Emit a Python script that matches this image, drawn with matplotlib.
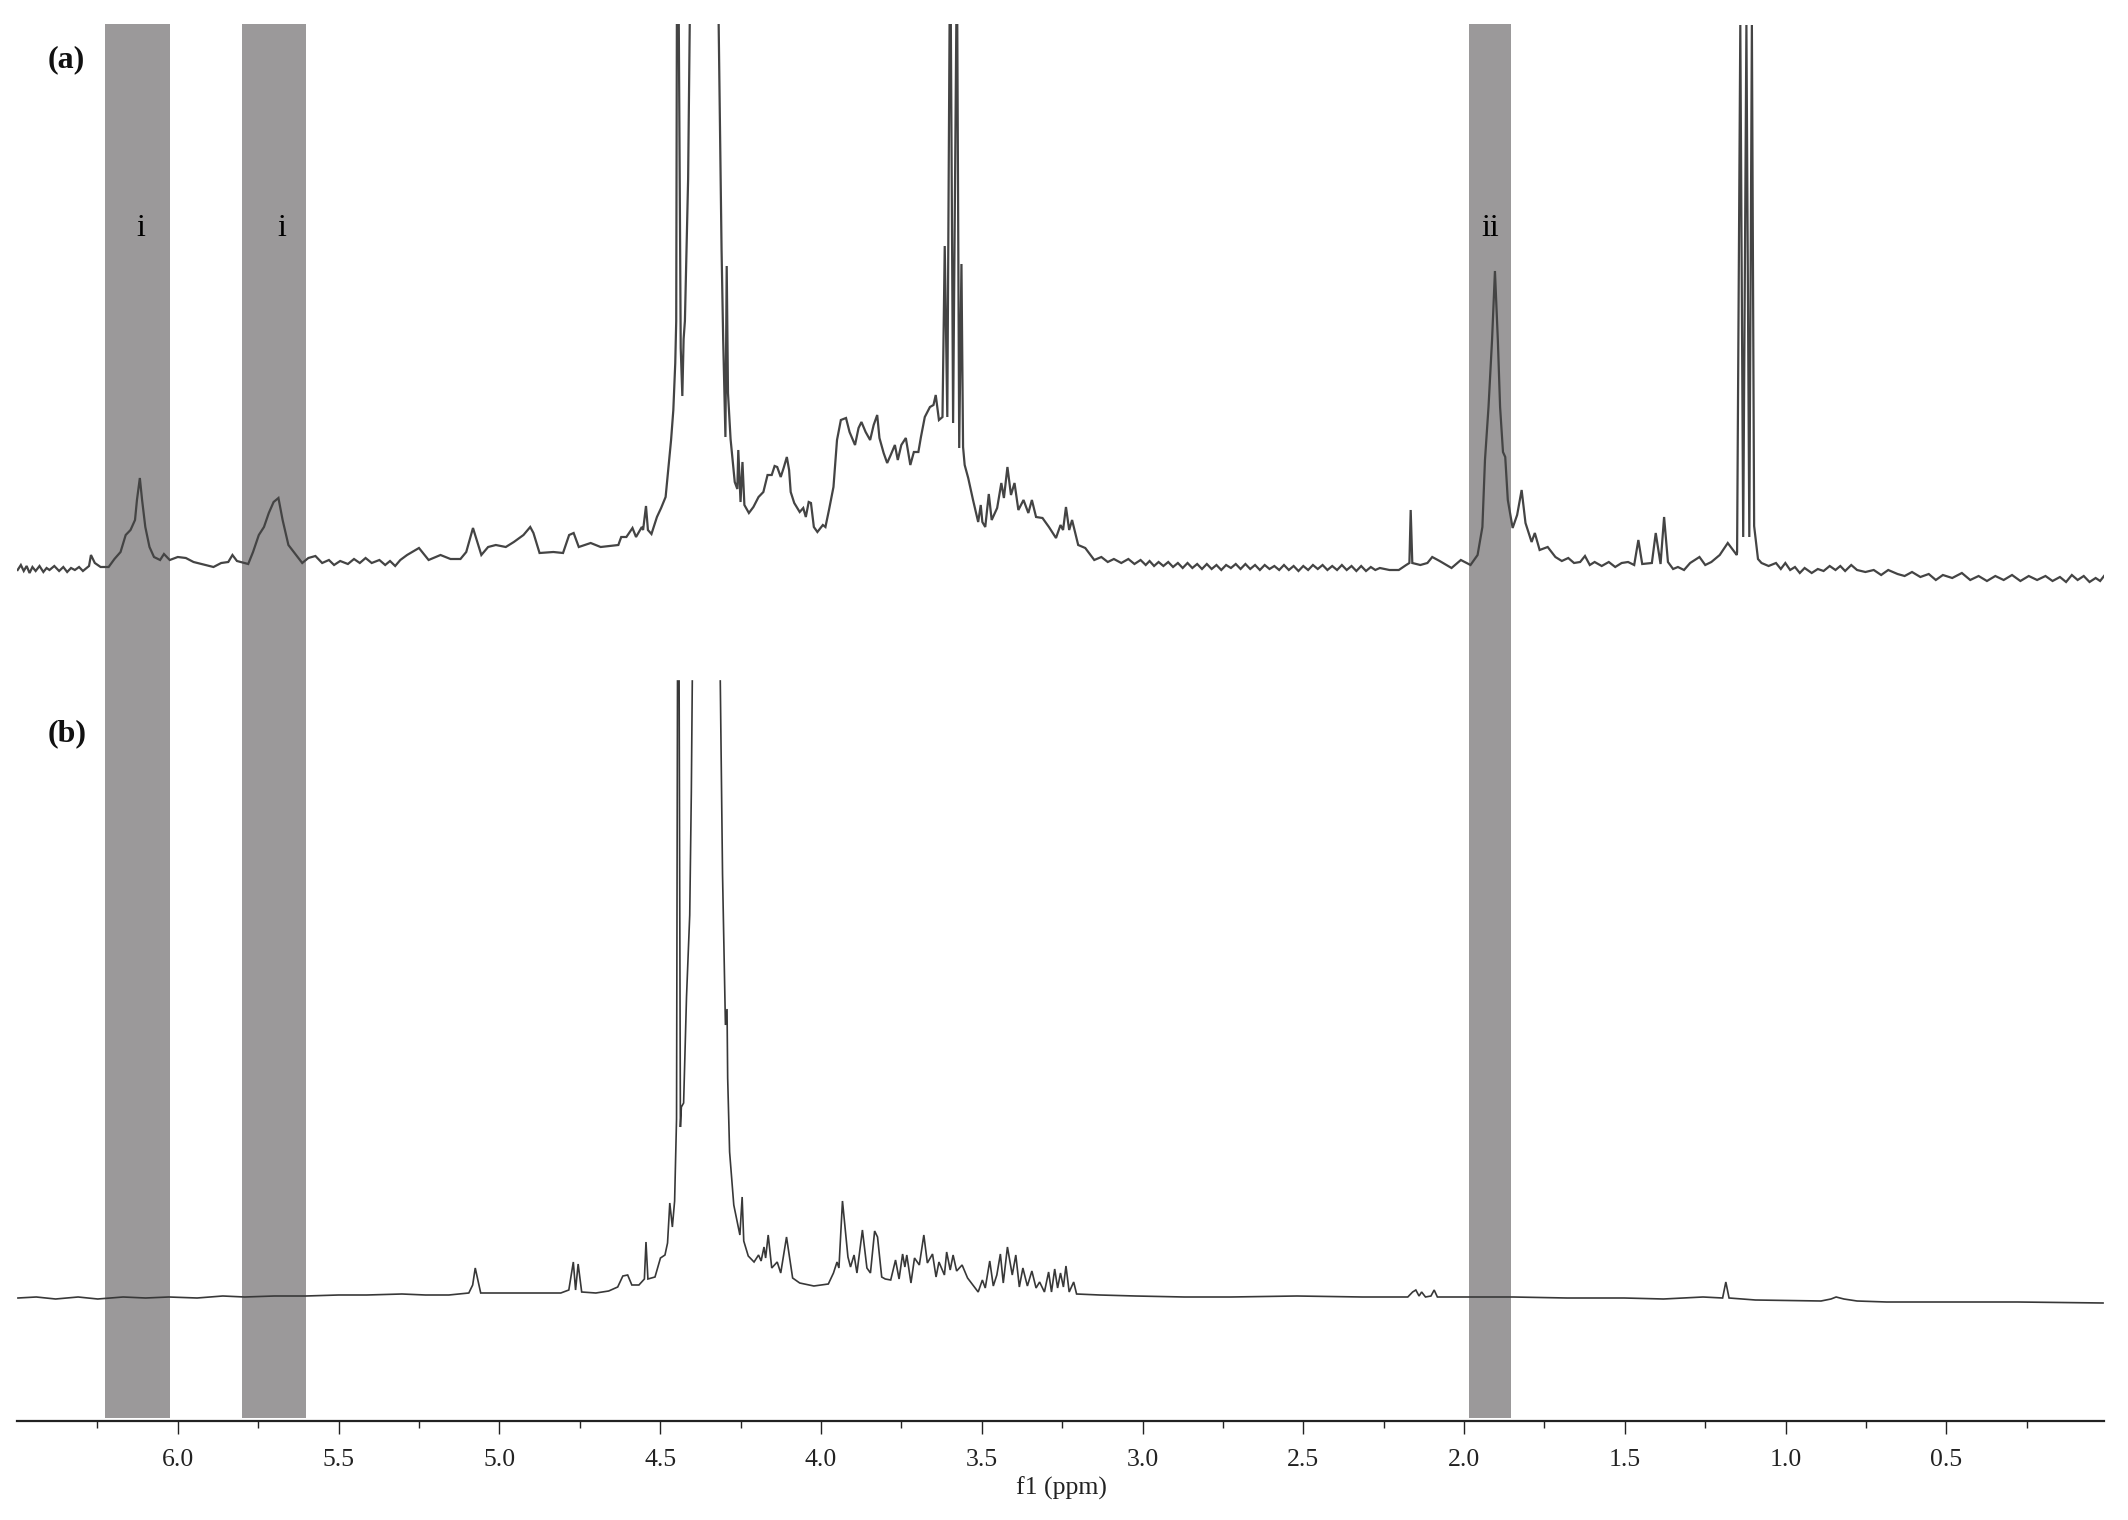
import numpy as np
import matplotlib
matplotlib.use("Agg")
import matplotlib.pyplot as plt

plt.rcParams["font.family"] = ["Liberation Serif", "DejaVu Serif"]

# =========================
# spectrum (a)
# =========================
a1_ppm = [6.498, 6.488, 6.479, 6.470, 6.461, 6.452, 6.442, 6.430, 6.418, 6.408, 6.399, 6.384, 6.369, 6.356, 6.344, 6.332,
          6.320, 6.307, 6.295, 6.276, 6.270, 6.258, 6.240, 6.215, 6.197,
          6.178, 6.162, 6.147, 6.133, 6.127, 6.118, 6.111, 6.101, 6.088, 6.074, 6.055, 6.043, 6.025, 6.000, 5.975, 5.951,
          5.926, 5.889, 5.865, 5.843, 5.830, 5.816, 5.781, 5.766, 5.748, 5.732, 5.717, 5.702, 5.687, 5.674, 5.656, 5.637,
          5.613, 5.594, 5.572, 5.551, 5.530, 5.514, 5.495, 5.471, 5.452, 5.434, 5.416, 5.397, 5.373, 5.355, 5.340, 5.324,
          5.308, 5.287, 5.250, 5.220, 5.183, 5.152, 5.121, 5.103,
          5.082, 5.056, 5.035, 5.011, 4.980, 4.955, 4.925, 4.904, 4.894, 4.875, 4.832, 4.802, 4.783, 4.769, 4.753, 4.716,
          4.685, 4.630]
a1_int = [851, 856, 850, 855, 848, 854, 850, 855, 849, 853, 851, 855, 850, 854, 849, 853,
          851, 854, 850, 855, 866, 858, 854, 854, 862,
          869, 886, 891, 901, 921, 943, 921, 894, 874, 864, 861, 867, 861, 864, 863, 859,
          857, 854, 858, 859, 866, 860, 857, 869, 886, 894, 908, 919, 923, 901, 876, 868,
          858, 863, 865, 858, 861, 856, 860, 857, 862, 858, 863, 858, 861, 856, 860, 855,
          861, 866, 873, 861, 866, 862, 862, 869,
          893, 866, 874, 876, 874, 879, 886, 894, 888, 868, 869, 868, 886, 888, 874, 878,
          874, 876]

a2_ppm = [4.621, 4.605, 4.586, 4.575, 4.557, 4.553, 4.544, 4.538, 4.527, 4.510, 4.497, 4.483, 4.475, 4.466, 4.459, 4.453,
          4.450, 4.448, 4.442, 4.436, 4.431, 4.427, 4.423, 4.413, 4.408, np.nan, 4.318, 4.309, 4.304, 4.297, 4.293, 4.289,
          4.281, 4.268, 4.260, 4.257, 4.250, 4.244, 4.238, 4.224, 4.210, 4.194, 4.179, 4.166, 4.153, 4.144, 4.136, 4.125,
          4.116, 4.106, 4.099, 4.094, 4.083, 4.066, 4.055, 4.047, 4.038, 4.031, 4.022, 4.011, 3.994, 3.986, 3.975, 3.961,
          3.950, 3.938, 3.922, 3.911, 3.894, 3.883, 3.874, 3.861, 3.847, 3.836, 3.825, 3.818, 3.805, 3.794, 3.783, 3.770,
          3.761, 3.750, 3.736, 3.722, 3.711, 3.697, 3.689, 3.677, 3.661, 3.650, 3.643, 3.633, 3.622, 3.615, 3.607, 3.600,
          3.596, 3.589, 3.579, 3.576, 3.570, 3.563, 3.558, 3.553]
a2_int = [884, 884, 893, 884, 894, 891, 915, 891, 887, 904, 913, 924, 951, 981, 1011, 1058,
          1100, 1396, 1396, 1073, 1025, 1082, 1100, 1242, 1396, np.nan, 1396, 1171, 1082, 984, 1155, 1028,
          982, 939, 932, 971, 919, 959, 916, 908, 914, 924, 929, 946, 946, 955, 954, 944,
          953, 964, 951, 929, 918, 909, 913, 904, 919, 918, 894, 889, 896, 894, 911, 934,
          981, 1001, 1003, 989, 976, 993, 999, 989, 981, 996, 1006, 983, 968, 958, 966, 976,
          961, 976, 983, 956, 969, 969, 984, 1004, 1014, 1016, 1026, 1001, 1004, 1175, 1004, 1396,
          1396, 998, 1396, 1396, 973, 1157, 974, 956]

a3_ppm = [3.542, 3.527, 3.511, 3.503, 3.498, 3.489, 3.478, 3.469, 3.452, 3.439, 3.431, 3.420, 3.409, 3.398, 3.386, 3.370,
          3.355, 3.344, 3.331, 3.311, 3.291, 3.269, 3.255, 3.247, 3.238, 3.228, 3.219, 3.200, 3.178, 3.150, 3.128, 3.108, 3.089,
          3.066, 3.044, 3.025, 3.006, 2.990, 2.978, 2.964, 2.950, 2.935, 2.92, 2.905, 2.89, 2.875, 2.86, 2.845, 2.83, 2.815, 2.80,
          2.785, 2.77, 2.755, 2.74, 2.725, 2.71, 2.695, 2.68, 2.665, 2.65, 2.635, 2.62, 2.605, 2.59, 2.575,
          2.56, 2.545, 2.53, 2.515, 2.50, 2.485, 2.47, 2.455, 2.44, 2.425, 2.41, 2.395, 2.38, 2.365, 2.35, 2.335, 2.32, 2.305, 2.29, 2.276]
a3_int = [943, 921, 899, 916, 899, 894, 927, 901, 913, 938, 923, 954, 926, 938, 911, 921,
          908, 921, 904, 903, 894, 883, 896, 891, 914, 891, 901, 876, 873, 861, 864, 859, 862,
          858, 862, 857, 861, 856, 860, 855, 859, 855, 859, 854, 858, 853, 858, 853, 857, 852, 857,
          852, 856, 851, 856, 853, 857, 852, 857, 852, 856, 851, 856, 852, 855, 851,
          856, 851, 855, 850, 855, 851, 856, 852, 856, 851, 855, 851, 856, 851, 855, 850, 855, 850, 854, 851]

a4_ppm = [2.262, 2.232, 2.203, 2.180, 2.170, 2.166, 2.161, 2.136, 2.114, 2.099, 2.076, 2.039, 2.010, 1.980, 1.958, 1.943,
          1.935, 1.924, 1.913, 1.904, 1.895, 1.888, 1.879, 1.872, 1.864, 1.849, 1.835, 1.821, 1.809, 1.790, 1.780, 1.765,
          1.740, 1.716, 1.696, 1.676, 1.658, 1.639, 1.624, 1.609, 1.594, 1.572, 1.550, 1.530, 1.510, 1.490, 1.471, 1.458, 1.446, 1.416, 1.404, 1.389, 1.378, 1.366,
          1.350, 1.335, 1.316, 1.297, 1.268, 1.250, 1.231, 1.205, 1.180, 1.152, 1.151, 1.141, 1.132, 1.122, 1.113, 1.105, 1.098, 1.086, 1.075,
          1.053, 1.030, 1.015, 1.001, 0.986, 0.971, 0.956, 0.941, 0.919, 0.900, 0.882, 0.863, 0.845, 0.830, 0.815, 0.796, 0.778, 0.752, 0.726, 0.703, 0.681, 0.652,
          0.630, 0.607, 0.581, 0.555, 0.533, 0.511, 0.482, 0.452, 0.426, 0.400, 0.374, 0.348, 0.322, 0.296, 0.270, 0.244, 0.218, 0.192, 0.170, 0.147, 0.128, 0.110,
          0.092, 0.073, 0.055, 0.036, 0.022, 0.010]
a4_int = [853, 851, 851, 856, 858, 911, 858, 856, 858, 864, 860, 853, 861, 856, 866, 894,
          961, 1014, 1081, 1150, 1081, 1014, 969, 964, 921, 893, 906, 931, 898, 879, 888, 871,
          874, 864, 860, 863, 858, 859, 865, 856, 859, 855, 859, 854, 858, 859, 856, 881, 857, 858, 888, 857, 904, 859,
          852, 854, 851, 858, 864, 856, 859, 866, 878, 866, 869, 1396, 884, 1396, 884, 1396, 895, 862, 858,
          855, 858, 852, 858, 851, 854, 848, 853, 848, 852, 850, 855, 851, 855, 850, 856, 851, 849, 851, 846, 851, 847,
          845, 849, 844, 847, 841, 846, 843, 848, 841, 845, 840, 845, 841, 846, 840, 845, 841, 845, 840, 844, 839, 846,
          841, 845, 839, 843, 840, 845]

# =========================
# spectrum (b)
# =========================
b1_ppm = [6.497, 6.44, 6.38, 6.31, 6.249, 6.17, 6.10, 6.028, 5.94, 5.86, 5.792, 5.70, 5.602, 5.50, 5.412, 5.303, 5.23, 5.157, 5.095, 5.083, 5.075, 5.058, 4.999, 4.902, 4.809, 4.784,
          4.770, 4.763, 4.755, 4.744, 4.700, 4.660, 4.632, 4.616, 4.601, 4.588, 4.566, 4.549, 4.544, 4.538, 4.516, 4.499,
          4.485, 4.477, 4.470, 4.462, 4.455, 4.449, 4.446, 4.441, 4.437, 4.434, 4.427, 4.418, 4.408, 4.403, 4.400, np.nan,
          4.313, 4.306, 4.299, 4.297, 4.292, 4.290, 4.284, 4.271, 4.252, 4.245, 4.240, 4.226]
b1_int = [123, 124, 122, 124, 122, 124, 123, 124, 123, 125, 124, 125, 125, 126, 126, 127, 126, 126, 128, 136, 153, 128, 128, 128, 128, 131,
          159, 131, 157, 129, 128, 130, 134, 145, 146, 136, 136, 142, 179, 142, 144, 163,
          166, 178, 218, 194, 220, 302, 740, 740, 294, 314, 318, 424, 506, 629, 740, np.nan,
          740, 547, 433, 396, 412, 343, 269, 216, 186, 224, 180, 165]

b2_ppm = [4.208, 4.194, 4.186, 4.177, 4.172, 4.164, 4.153, 4.136, 4.125, 4.107, 4.088, 4.066, 4.022, 3.977, 3.961, 3.950,
          3.944, 3.933, 3.916, 3.908, 3.897, 3.888, 3.871, 3.857, 3.846, 3.833, 3.824, 3.811, 3.800, 3.783, 3.768, 3.757,
          3.746, 3.739, 3.733, 3.720, 3.709, 3.694, 3.680, 3.669, 3.653, 3.642, 3.633, 3.616, 3.609, 3.598, 3.589, 3.578,
          3.561, 3.544, 3.511, 3.498, 3.489, 3.475, 3.464, 3.453, 3.442, 3.433, 3.420, 3.405, 3.394, 3.383, 3.372, 3.358,
          3.344, 3.331, 3.320, 3.305, 3.292, 3.283, 3.273, 3.264, 3.255, 3.246, 3.238, 3.228, 3.214, 3.205]
b2_int = [159, 166, 160, 174, 163, 186, 153, 159, 148, 184, 143, 138, 135, 137, 148, 159,
          153, 220, 164, 154, 166, 148, 191, 153, 148, 190, 184, 144, 142, 141, 161, 142,
          167, 154, 166, 138, 163, 156, 186, 158, 167, 144, 159, 146, 169, 151, 166, 150,
          156, 143, 129, 141, 133, 160, 135, 146, 167, 138, 174, 146, 166, 134, 153, 135,
          150, 133, 139, 129, 149, 129, 152, 133, 148, 134, 155, 129, 139, 127]

b3_ppm = [3.133, 3.022, 2.87, 2.725, 2.52, 2.317, 2.175, 2.160, 2.150, 2.140, 2.132, 2.120, 2.103, 2.093, 2.083, 1.985, 1.848, 1.68, 1.502,
          1.380, 1.257, 1.196, 1.186, 1.176, 1.094, 0.890, 0.859, 0.843, 0.819, 0.778, 0.686, 0.482, 0.278, 0.013]
b3_int = [126, 125, 124, 124, 125, 124, 124, 129, 131, 125, 129, 124, 125, 131, 124, 124, 124, 123, 123,
          122, 124, 123, 139, 123, 121, 120, 122, 124, 122, 120, 119, 119, 119, 118]

# shaded regions and labels
band_edges = [(6.227, 6.025), (5.80, 5.60), (1.985, 1.855)]
band_labels = ["i", "i", "ii"]
band_label_ppm = [6.115, 5.676, 1.918]

major_ticks = [6.0, 5.5, 5.0, 4.5, 4.0, 3.5, 3.0, 2.5, 2.0, 1.5, 1.0, 0.5]
minor_ticks = [6.25, 5.75, 5.25, 4.75, 4.25, 3.75, 3.25, 2.75, 2.25, 1.75, 1.25, 0.75, 0.25]
tick_labels = ["6.0", "5.5", "5.0", "4.5", "4.0", "3.5", "3.0", "2.5", "2.0", "1.5", "1.0", "0.5"]

W, H = 2128, 1520
fig = plt.figure(figsize=(W / 100, H / 100), dpi=100)
ax = fig.add_axes([17 / W, 1 - 1421 / H, (2104 - 17) / W, (1421 - 24) / H])

# ===== bands =====
for lo, hi in band_edges:
    ax.axvspan(lo, hi, ymin=3 / 1397, ymax=1.0, color="#9b999a", lw=0, zorder=1)

# ===== spectra =====
a_ppm = a1_ppm + a2_ppm + a3_ppm + a4_ppm
a_int = a1_int + a2_int + a3_int + a4_int
b_ppm = b1_ppm + b2_ppm + b3_ppm
b_int = b1_int + b2_int + b3_int
ax.plot(a_ppm, a_int, color="#444444", linewidth=1.6, solid_joinstyle="miter", zorder=3)
ax.plot(b_ppm, b_int, color="#383838", linewidth=1.2, solid_joinstyle="miter", zorder=3)

ax.set_xlim(6.5, 0.01)
ax.set_ylim(0, 1397)

ax.spines["top"].set_visible(False)
ax.spines["left"].set_visible(False)
ax.spines["right"].set_visible(False)
ax.spines["bottom"].set_linewidth(1.6)
ax.spines["bottom"].set_color("#222222")
ax.set_yticks([])
ax.set_xticks(major_ticks)
ax.set_xticklabels(tick_labels, fontsize=18.5, color="#222222")
ax.set_xticks(minor_ticks, minor=True)
ax.tick_params(axis="x", which="major", length=9.4, width=1.0, pad=11, color="#222222")
ax.tick_params(axis="x", which="minor", length=5, width=1.0, color="#222222")

fig.text(1061 / W, 1 - 1488 / H, "f1 (ppm)", fontsize=18.5, color="#222222", ha="center", va="center")

for ppm, lab in zip(band_label_ppm, band_labels):
    ax.text(ppm, 1193, lab, fontsize=23, color="#000000", ha="center", va="center", zorder=4)

fig.text(66 / W, 1 - 60 / H, "(a)", fontsize=23, fontweight="bold", color="#111111", ha="center", va="center")
fig.text(67 / W, 1 - 734 / H, "(b)", fontsize=23, fontweight="bold", color="#111111", ha="center", va="center")

fig.savefig("out.png", dpi=100)
